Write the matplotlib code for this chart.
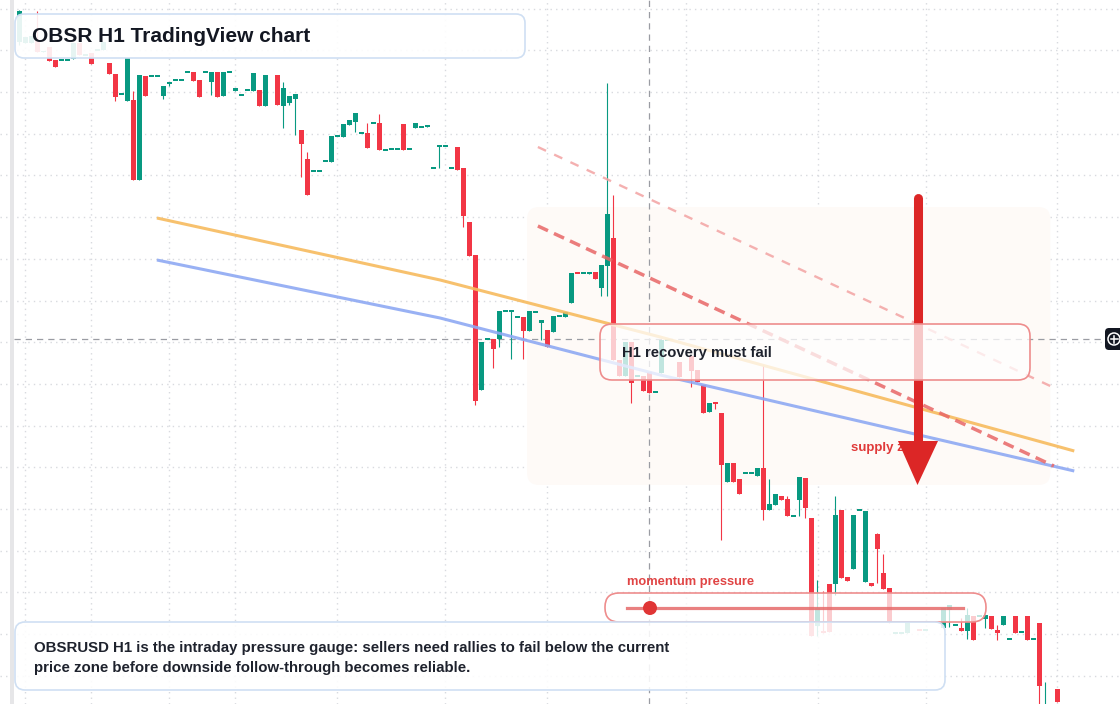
import numpy as np
import matplotlib
matplotlib.use("Agg")
import matplotlib.pyplot as plt
import matplotlib.transforms as mtransforms
from matplotlib.patches import FancyBboxPatch, Rectangle, Circle, Polygon

plt.rcParams['font.family'] = ['Liberation Sans', 'DejaVu Sans']

# ── OHLC (H1 candles, left to right; None = no candle / wick at body edge) ──
opens = [
    6.78, 6.77, 6.77, 6.80, 6.68, 6.73, 6.60, 6.60, 6.60, 6.61,
    6.77, 6.65, 6.67, 6.70, 6.70, 6.57, 6.46, 6.26, 6.19, 6.20,
    5.40, 6.44, 6.44, 6.44, 6.24, 6.37, 6.40, 6.40, 6.48, 6.48,
    6.40, 6.48, 6.38, 6.48, 6.24, 6.48, 6.29, 6.25, 6.30, 6.29,
    6.30, 6.14, None, 6.45, 6.14, 6.17, 6.21, 5.90, 5.61, 5.49,
    5.49, 5.59, 5.58, 5.84, 5.83, 5.95, 5.98, 5.87, 5.87, 5.97,
    5.97, 5.70, 5.71, 5.71, 5.96, 5.71, 5.92, 5.93, 5.93, 5.52,
    5.74, 5.74, 5.52, 5.73, 5.52, 4.98, 4.65, 3.30, 3.81, 3.81,
    3.81, 4.09, 4.09, 4.03, 4.03, 3.89, 4.08, 3.97, 3.90, 3.88,
    4.04, 4.03, 4.17, 4.475, 4.47, 4.46, 4.48, 4.32, 4.54, 4.82,
    3.60, 3.44, 3.78, 3.44, 3.44, 3.48, 3.28, 3.47, 3.80, None,
    3.58, None, 3.64, 3.50, 3.35, 3.08, 3.17, 3.07, 2.38, 2.57,
    2.41, 2.47, 2.47, 2.44, 2.52, 2.10, 2.15, 2.24, 2.21, 2.04,
    2.20, 2.42, 2.02, 0.94, 0.89, 1.36, 1.36, 2.10, 1.43, 1.51,
    2.10, 1.38, 1.37, 1.86, 1.47, 1.32, 0.87, 0.87, 0.87, None,
    0.905, 0.90, None, None, 0.92, 1.10, 0.95, 0.92, 0.89, 1.04,
    1.04, 1.01, 1.04, 0.90, 0.95, 0.81, 1.04, 0.88, 1.04, 0.81,
    0.97, -0.10, None, 0.31,
]
closes = [
    7.09, 6.83, 6.84, 6.68, 6.69, 6.59, 6.53, 6.60, 6.60, 6.77,
    6.65, 6.65, 6.56, 6.70, 6.78, 6.46, 6.23, 6.26, 6.62, 5.40,
    6.45, 6.24, 6.44, 6.44, 6.34, 6.37, 6.40, 6.40, 6.48, 6.39,
    6.23, 6.48, 6.48, 6.23, 6.48, 6.48, 6.32, 6.25, 6.30, 6.47,
    6.14, 6.45, None, 6.15, 6.32, 6.24, 6.26, 5.76, 5.25, 5.49,
    5.49, 5.59, 5.84, 5.84, 5.96, 6.00, 6.07, 5.87, 5.72, 5.97,
    5.70, 5.70, 5.71, 5.71, 5.70, 5.71, 5.97, 5.93, 5.95, 5.52,
    5.74, 5.74, 5.52, 5.50, 5.04, 4.64, 3.19, 3.78, 3.81, 3.71,
    4.09, 4.09, 4.09, 4.03, 3.89, 4.09, 4.08, 4.00, 3.73, 4.04,
    4.04, 4.08, 4.47, 4.47, 4.47, 4.48, 4.41, 4.55, 5.06, 3.60,
    3.44, 3.78, 3.37, 3.44, 3.29, 3.27, 3.28, 3.80, 3.80, None,
    3.43, None, 3.49, 3.38, 3.07, 3.17, 3.165, 2.55, 2.57, 2.38,
    2.26, 2.47, 2.47, 2.52, 2.10, 2.16, 2.26, 2.20, 2.04, 2.04,
    2.43, 2.12, 0.84, 1.12, 0.87, 0.88, 2.05, 1.42, 1.39, 2.05,
    2.10, 2.09, 1.34, 1.71, 1.31, 0.97, 0.87, 0.87, 0.98, None,
    0.90, 0.90, None, None, 1.12, 1.15, 0.95, 0.89, 1.05, 0.80,
    1.04, 1.05, 0.91, 0.87, 1.04, 0.81, 0.87, 0.88, 0.80, 0.81,
    0.34, 0.05, None, 0.18,
]
highs = [None] * len(opens)
lows = [None] * len(opens)
for i, h in {0: 7.10, 3: 7.09, 19: 6.29, 44: 6.38, 48: 5.68, 58: 5.97, 60: 6.06,
             98: 6.37, 99: 5.25, 124: 3.55, 125: 2.41, 128: 2.24, 133: 1.40,
             134: 1.29, 136: 2.24, 143: 1.87, 144: 1.66, 157: 1.02, 158: 1.12,
             163: 0.95, 171: 0.38}.items():
    highs[i] = h
for i, l in {0: 6.75, 16: 6.19, 24: 6.21, 25: 6.34, 32: 6.25, 44: 5.92, 45: 6.15,
             46: 5.85, 47: 5.43, 56: 5.88, 70: 5.52, 74: 4.93, 76: 3.15, 79: 3.52,
             80: 3.73, 82: 3.61, 84: 3.61, 87: 3.80, 97: 4.24, 98: 4.24, 102: 3.17,
             112: 3.33, 116: 3.11, 117: 1.80, 124: 2.00, 130: 2.04, 131: 2.02,
             133: 0.84, 136: 1.25, 143: 1.37, 155: 0.93, 158: 0.81, 161: 0.92,
             163: 0.80, 170: 0.10, 171: -0.15}.items():
    lows[i] = l

# ── overlays ──
orange_idx = [22.9, 70.1, 106.8, 175.8]
orange_val = [5.02, 4.40, 3.83, 2.69]
blue_idx = [22.9, 70.1, 106.8, 175.8]
blue_val = [4.60, 4.02, 3.45, 2.49]
upper_dash_idx = [86.4, 171.8]
upper_dash_val = [5.73, 3.34]
lower_dash_idx = [86.4, 172.4]
lower_dash_val = [4.94, 2.54]
zone_start, zone_end = 84.6, 171.8
zone_low, zone_high = 2.35, 5.13
cross_idx, cross_price = 105, 3.81
grid_idx = [0.9, 11.9, 24.9, 35.9, 52.9, 70.9, 87.9, 111.1, 133.1, 151.1, 173.0]

UP, DOWN = '#089981', '#f23645'
TXT = '#131722'
W, H = 1120, 704

fig = plt.figure(figsize=(W / 100, H / 100), dpi=100)
ax = fig.add_axes([0, 0, 1, 1])
ax.set_xlim(-3.25, 183.42)
ax.set_ylim(0.16, 7.20)
ax.axis('off')

# pixel transform (origin top-left) for annotation furniture
px = mtransforms.Affine2D().scale(1, -1).translate(0, H)

# grid
for lvl in np.arange(7.113, 0.2, -0.417):
    ax.axhline(lvl, color='#d8dadf', lw=1.0, ls=(0, (1, 3)), zorder=0)
for g in grid_idx:
    ax.axvline(g, color='#d8dadf', lw=1.0, ls=(0, (1, 3)), zorder=0)
ax.add_patch(Rectangle((10, 0), 4, H, transform=px, color='#e6e6e8', lw=0, zorder=1, clip_on=False))

# supply zone
ax.add_patch(FancyBboxPatch((zone_start, zone_low), zone_end - zone_start, zone_high - zone_low,
                            boxstyle='round,pad=0,rounding_size=2', mutation_aspect=0.06,
                            fc='#fefaf7', ec='none', zorder=1))

# candles
o = np.array([np.nan if v is None else v for v in opens], float)
c = np.array([np.nan if v is None else v for v in closes], float)
hi = np.array([np.nan if v is None else v for v in highs], float)
lo = np.array([np.nan if v is None else v for v in lows], float)
hi = np.where(np.isnan(hi), np.maximum(o, c), hi)
lo = np.where(np.isnan(lo), np.minimum(o, c), lo)
idx = np.arange(len(o))
ok = ~np.isnan(o)
cols = np.where(c >= o, UP, DOWN)
body_h = np.maximum(np.abs(c - o), 0.018)
body_b = (o + c) / 2 - body_h / 2
ax.vlines(idx[ok], lo[ok], hi[ok], colors=cols[ok], lw=0.8, zorder=3)
ax.bar(idx[ok], body_h[ok], bottom=body_b[ok], width=0.83, color=cols[ok], lw=0, zorder=3)

# trend lines
ax.plot(orange_idx, orange_val, color='#f7bb5e', lw=2.2, alpha=0.9, zorder=4,
        solid_capstyle='butt', solid_joinstyle='round')
ax.plot(blue_idx, blue_val, color='#8ea9f3', lw=2.2, alpha=0.9, zorder=4,
        solid_capstyle='butt', solid_joinstyle='round')
ax.plot(upper_dash_idx, upper_dash_val, color='#f3a3a3', lw=1.7, ls=(0, (3.8, 3.8)), alpha=0.85, zorder=4)
ax.plot(lower_dash_idx, lower_dash_val, color='#e86666', lw=2.5, ls=(0, (3.2, 1.9)), alpha=0.85, zorder=4)

# crosshair
ax.axvline(cross_idx, color='#9a9ca3', lw=0.9, ls=(0, (5, 4)), zorder=2)
ax.plot([14, 1105], [339, 339], transform=px, color='#9a9ca3', lw=0.9, ls=(0, (5, 4)), zorder=2)

# supply zone label + arrow
ax.text(851, 448, 'supply zone', transform=px, color='#e03a3a', fontsize=9.5,
        fontweight='bold', va='center', ha='left', zorder=5)
ax.plot([917.5, 917.5], [198, 446], transform=px, color='#dc2626', lw=6.5,
        solid_capstyle='round', zorder=6)
ax.add_patch(Polygon([(898, 441), (938, 441), (917.5, 485)], closed=True, transform=px,
                     fc='#dc2626', ec='none', zorder=6, clip_on=False))


def box(x0, y0, x1, y1, r, ec, alpha, z, lw=1.2):
    ax.add_patch(FancyBboxPatch((x0, y0), x1 - x0, y1 - y0, transform=px,
                                boxstyle=f'round,pad=0,rounding_size={r}',
                                fc=(1, 1, 1, alpha), ec=ec, lw=lw, zorder=z, clip_on=False))


# H1 recovery box
box(600, 324, 1030, 380, 12, '#ee8d8d', 0.75, 8)
ax.text(622, 353, 'H1 recovery must fail', transform=px, color='#1e222d', fontsize=10.7,
        fontweight='bold', va='center', zorder=9)

# momentum pressure gauge
box(605, 593, 986, 622, 14, '#ee8d8d', 0.75, 8)
ax.plot([627, 963], [608, 608], transform=px, color='#e66a6a', lw=2.3, alpha=0.85, zorder=9)
ax.add_patch(Circle((650, 608), 7, transform=px, fc='#e03535', ec='none', zorder=10))
ax.text(627, 582, 'momentum pressure', transform=px, color='#e04444', fontsize=9.3,
        fontweight='bold', va='center', zorder=9)

# title box
box(15, 14, 525, 58, 9, '#cfdff3', 0.9, 8)
ax.text(32, 36, 'OBSR H1 TradingView chart', transform=px, color=TXT, fontsize=15,
        fontweight='bold', va='center', zorder=9)

# bottom note
box(15, 622, 945, 690, 10, '#cfdff3', 0.88, 8)
ax.text(34, 648, 'OBSRUSD H1 is the intraday pressure gauge: sellers need rallies to fail below the current',
        transform=px, color='#1e222d', fontsize=10.85, fontweight='bold', va='center', zorder=9)
ax.text(34, 668, 'price zone before downside follow-through becomes reliable.',
        transform=px, color='#1e222d', fontsize=10.85, fontweight='bold', va='center', zorder=9)

# add-button at the crosshair price
ax.add_patch(FancyBboxPatch((1105, 328), 22, 22, transform=px, boxstyle='round,pad=0,rounding_size=4',
                            fc='#131722', ec='none', zorder=10, clip_on=False))
ax.add_patch(Circle((1114, 339), 6, transform=px, fill=False, ec='white', lw=1.1, zorder=11))
ax.plot([1110.5, 1117.5], [339, 339], transform=px, color='white', lw=1.1, zorder=11)
ax.plot([1114, 1114], [335.5, 342.5], transform=px, color='white', lw=1.1, zorder=11)

fig.savefig('out.png', dpi=100)
